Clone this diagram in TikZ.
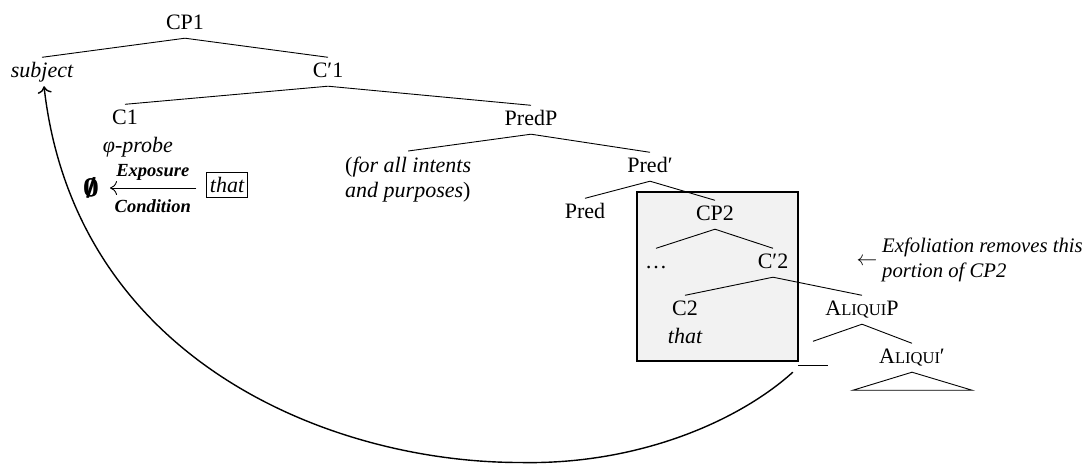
\documentclass[tikz,border=0pt]{standalone}
\usepackage{fontspec}
\setmainfont{Liberation Serif}
\usetikzlibrary{arrows.meta}
\newcommand\fakesc[1]{{\fontsize{16.5pt}{25pt}\selectfont #1}}
\newcommand\heavynull{\mbox{\boldmath\rlap{$\emptyset$}\kern0.7pt\rlap{$\emptyset$}\kern0.7pt$\emptyset$}}
\begin{document}
\begin{tikzpicture}[x=1pt,y=-1pt,
  every node/.style={font=\fontsize{22pt}{25pt}\selectfont},
  lbl/.style={text height=15pt,text depth=4.5pt,inner ysep=4.5pt,inner xsep=1pt,anchor=base},
  edge/.style={line width=0.9pt},
  tip/.style={-{Computer Modern Rightarrow[length=7pt,width=14pt]}},
  small/.style={font=\fontsize{18.5pt}{22pt}\selectfont\bfseries\itshape}
]
\useasboundingbox (0,0) rectangle (1084,464);
\fill[white] (0,0) rectangle (1084,464);

% exfoliated portion
\draw[line width=2.8pt, fill={rgb,255:red,242;green,242;blue,242}] (637,192) rectangle (798,361);

% nodes
\node[lbl] (cp1) at (185,29) {CP1};
\node[lbl] (subj) at (42,77) {\itshape subject};
\node[lbl] (c1bar) at (328,77) {C′1};
\node[lbl] (c1) at (125,124) {C1};
\node[lbl] (probe) at (138,152) {\itshape φ-probe};
\node[lbl] (predp) at (531,125) {PredP};
\node[anchor=north west, inner xsep=0pt, inner ysep=6pt, align=left] (adv) at (345,151) {(\textit{for all intents}\\\textit{and purposes})};
\node[lbl] (predbar) at (650,172) {Pred′};
\node[lbl] (pred) at (585,218) {Pred};
\node[lbl] (cp2) at (715,220) {CP2};
\node[lbl] (dots) at (656,268) {…};
\node[lbl] (c2bar) at (773,268) {C′2};
\node[lbl] (c2) at (685,315) {C2};
\node[lbl] (that2) at (685,343) {\itshape that};
\node[lbl] (aliquip) at (862,315) {A\fakesc{LIQUI}P};
\node[lbl] (aliquibar) at (912,363) {A\fakesc{LIQUI}′};
\node[lbl, inner xsep=0pt] (trace) at (813,361) {\rule[-5pt]{30pt}{0.9pt}};

\node[font=\fontsize{27pt}{30pt}\selectfont, inner sep=0pt] (nullset) at (91,188) {\heavynull};
\node[draw, line width=0.8pt, text height=15pt, text depth=0pt, inner xsep=3pt, inner ysep=5pt] (thatbox) at (227,184.5) {\itshape that};

\node[anchor=north west, inner sep=0pt, align=left, font=\fontsize{20.7pt}{25pt}\selectfont\itshape] (exf) at (882,238) {Exfoliation removes this\\portion of CP2};
\node[inner sep=0pt] (exfarrow) at (867,262) {$\leftarrow$};

% tree edges
\draw[edge] (cp1.south) -- (subj.north);
\draw[edge] (cp1.south) -- (c1bar.north);
\draw[edge] (c1bar.south) -- (c1.north);
\draw[edge] (c1bar.south) -- (predp.north);
\draw[edge] (predp.south) -- (adv.north);
\draw[edge] (predp.south) -- (predbar.north);
\draw[edge] (predbar.south) -- (pred.north);
\draw[edge] (predbar.south) -- (cp2.north);
\draw[edge] (cp2.south) -- (dots.north);
\draw[edge] (cp2.south) -- (c2bar.north);
\draw[edge] (c2bar.south) -- (c2.north);
\draw[edge] (c2bar.south) -- (aliquip.north);
\draw[edge] (aliquip.south) -- (trace.north);
\draw[edge] (aliquip.south) -- (aliquibar.north);
\draw[edge] (aliquibar.south) -- ++(-59,18) -- ++(119,0) -- cycle;

% exposure condition
\draw[edge, tip, shorten <=10pt, shorten >=11pt] (thatbox.west |- nullset.east) -- (nullset.east)
  node[midway, anchor=base, yshift=12pt, small] (expo) {Exposure}
  node[midway, anchor=base, yshift=-24pt, small] (cond) {Condition};

% movement
\coordinate (bottom) at (520,462.5);
\draw[line width=1.4pt, tip] ([xshift=-5pt,yshift=-2pt]trace.south west) .. controls (740,420) and (640,465) .. (bottom)
  .. controls (330,462.5) and (75,360) .. ([xshift=2pt]subj.south);
\end{tikzpicture}
\end{document}
